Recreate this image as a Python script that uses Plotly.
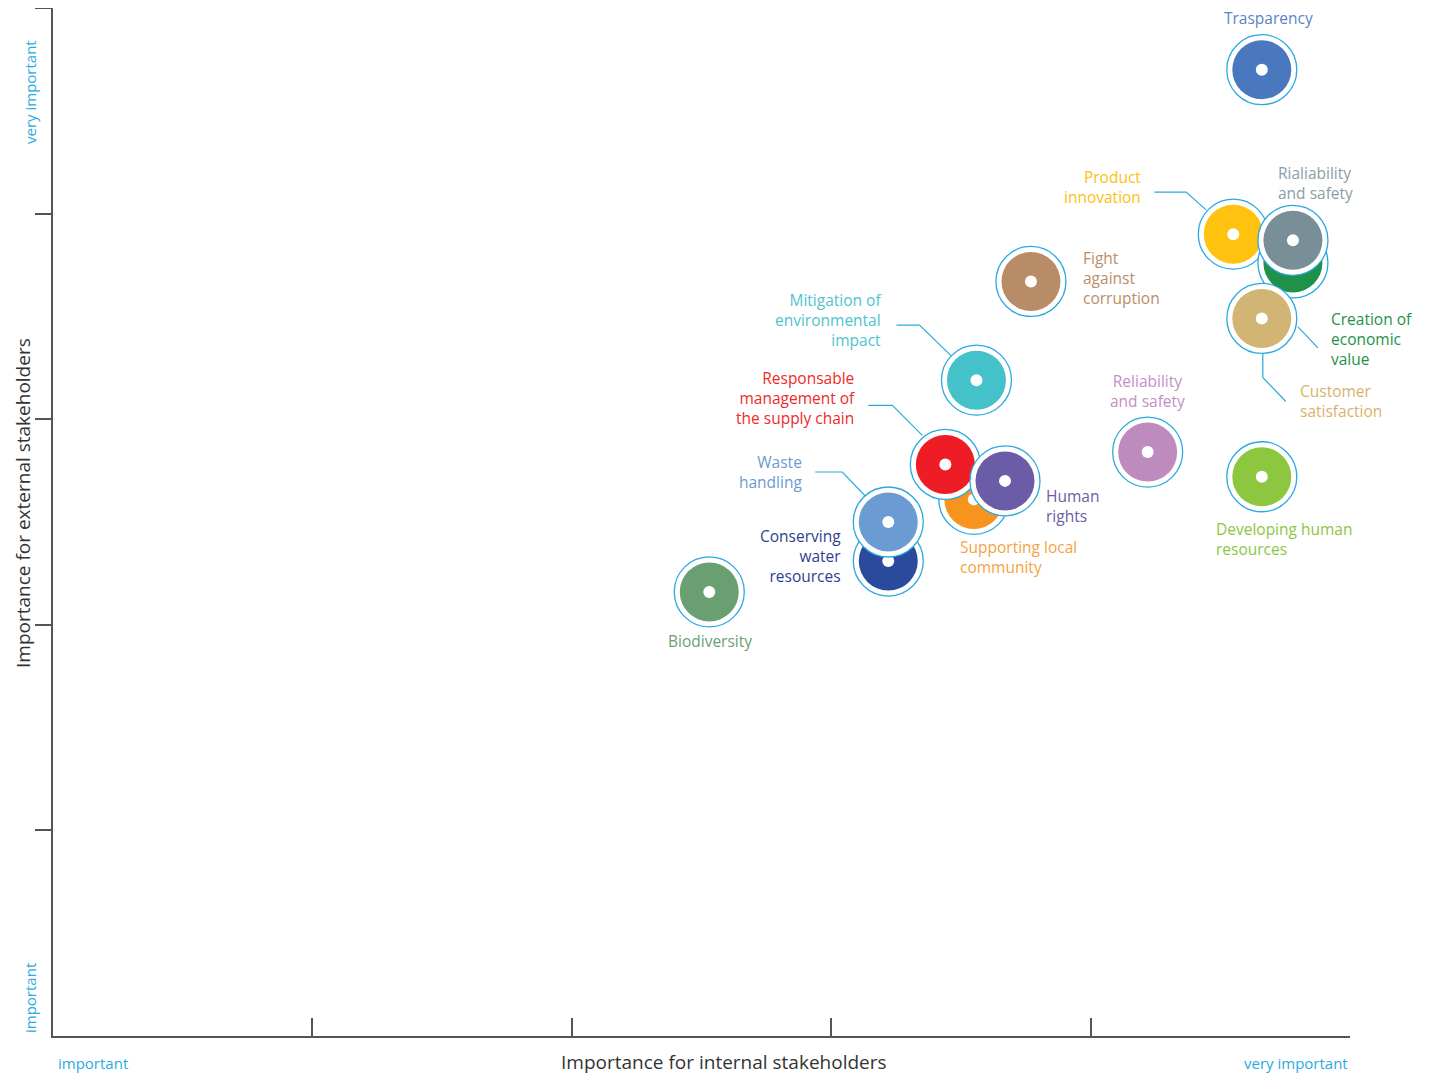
import plotly.graph_objects as go

RING = "#29A9E0"
AXIS = "#555555"
FONT = "Open Sans, sans-serif"

# ---- data ----
topics = [
    "Trasparency", "Product innovation", "Creation of economic value",
    "Rialiability and safety", "Customer satisfaction", "Fight against corruption",
    "Mitigation of environmental impact", "Supporting local community",
    "Responsable management of the supply chain", "Human rights",
    "Reliability and safety", "Developing human resources",
    "Conserving water resources", "Waste handling", "Biodiversity",
]
internal = [4.66, 4.55, 4.78, 4.78, 4.66, 3.77, 3.56, 3.55, 3.44, 3.67, 4.22, 4.66, 3.22, 3.22, 2.53]
external = [4.70, 3.90, 3.76, 3.87, 3.49, 3.67, 3.19, 2.61, 2.78, 2.70, 2.84, 2.72, 2.31, 2.50, 2.16]
labels = [
    "Trasparency", "Product<br>innovation", "Creation of<br>economic<br>value",
    "Rialiability<br>and safety", "Customer<br>satisfaction", "Fight<br>against<br>corruption",
    "Mitigation of<br>environmental<br>impact", "Supporting local<br>community",
    "Responsable<br>management of<br>the supply chain", "Human<br>rights",
    "Reliability<br>and safety", "Developing human<br>resources",
    "Conserving<br>water<br>resources", "Waste<br>handling", "Biodiversity",
]
fill_colors = ["#4A78BE", "#FEC20F", "#1F9148", "#788F98", "#D2B574", "#B78C67",
               "#45C1C9", "#F7941D", "#EE1C25", "#6A5CA6", "#BE8BBF", "#8DC63F",
               "#2A4B9B", "#6A9BD3", "#6A9F72"]
text_colors = ["#5B83C4", "#FDC010", "#1F9148", "#8B9DA5", "#D8B36A", "#B88E6A",
               "#4EC4CC", "#F7A23E", "#EE2A2A", "#6A5CA6", "#C190C5", "#8DC63F",
               "#2E3F8F", "#6A9BD3", "#6A9F72"]

# ---- label placement (pixel offsets from the bubble, y up) ----
label_pos = {
    "Trasparency": (7, 52, "center"),
    "Product innovation": (-90, 47, "right"),
    "Creation of economic value": (36, -76, "left"),
    "Rialiability and safety": (-17, 57, "left"),
    "Customer satisfaction": (36, -83, "left"),
    "Fight against corruption": (50, 3, "left"),
    "Mitigation of environmental impact": (-93, 60, "right"),
    "Supporting local community": (-16, -58, "left"),
    "Responsable management of the supply chain": (-88, 66, "right"),
    "Human rights": (39, -25, "left"),
    "Reliability and safety": (0, 61, "center"),
    "Developing human resources": (-48, -62, "left"),
    "Conserving water resources": (-45, 5, "right"),
    "Waste handling": (-84, 50, "right"),
    "Biodiversity": (1, -49, "center"),
}
leaders = {
    "Product innovation": [(-79, 42), (-47, 42), (-27, 24)],
    "Creation of economic value": [(5, -64), (25, -85)],
    "Customer satisfaction": [(1, -35), (1, -59), (24, -83)],
    "Mitigation of environmental impact": [(-80, 55), (-57, 55), (-25, 24)],
    "Responsable management of the supply chain": [(-77, 59), (-53, 59), (-23, 29)],
    "Waste handling": [(-73, 50), (-46, 50), (-23, 26)],
}

fig = go.Figure()

for name, x, y, c in zip(topics, internal, external, fill_colors):
    fig.add_scatter(x=[x], y=[y], mode="markers", hoverinfo="skip", showlegend=False,
                    marker=dict(size=70, color="white", line=dict(color=RING, width=1.3)))
    fig.add_scatter(x=[x], y=[y], mode="markers", name=name, showlegend=False,
                    marker=dict(size=59, color=c, line=dict(width=0)),
                    hovertemplate=f"{name}<extra></extra>")
    fig.add_scatter(x=[x], y=[y], mode="markers", hoverinfo="skip", showlegend=False,
                    marker=dict(size=12, color="white", line=dict(width=0)))

for name, x, y, lab, tc in zip(topics, internal, external, labels, text_colors):
    dx, dy, anchor = label_pos[name]
    fig.add_annotation(x=x, y=y, xref="x", yref="y", text=lab, showarrow=False,
                       xshift=dx, yshift=dy, xanchor=anchor, yanchor="middle", align=anchor,
                       font=dict(family=FONT, size=15.5, color=tc))
    if name in leaders:
        pts = leaders[name]
        path = "M " + " L ".join(f"{px},{py}" for px, py in pts)
        fig.add_shape(type="path", xsizemode="pixel", ysizemode="pixel",
                      xanchor=x, yanchor=y, xref="x", yref="y", path=path,
                      line=dict(color=RING, width=1.2))

# axis end labels
end_font = dict(family=FONT, size=15, color="#29ABE2")
fig.add_annotation(xref="paper", yref="paper", x=0, y=1, xshift=-23, yshift=-84,
                   xanchor="center", yanchor="middle",
                   text="very important", textangle=-90, showarrow=False, font=end_font)
fig.add_annotation(xref="paper", yref="paper", x=0, y=0, xshift=-23, yshift=38,
                   xanchor="center", yanchor="middle",
                   text="important", textangle=-90, showarrow=False, font=end_font)
fig.add_annotation(xref="paper", yref="paper", x=0, y=0, xshift=3, yshift=-27,
                   xanchor="left", yanchor="middle",
                   text="important", showarrow=False, font=end_font)
fig.add_annotation(xref="paper", yref="paper", x=1, y=0, yshift=-27,
                   xanchor="right", yanchor="middle",
                   text="very important", showarrow=False, font=end_font)

title_font = dict(family=FONT, size=19, color="#333333")
fig.add_annotation(xref="paper", yref="paper", x=0.517, y=0, yshift=-26,
                   xanchor="center", yanchor="middle",
                   text="Importance for internal stakeholders", showarrow=False, font=title_font)
fig.add_annotation(xref="paper", yref="paper", x=0, y=0.5185, xshift=-30,
                   xanchor="center", yanchor="middle", textangle=-90,
                   text="Importance for external stakeholders", showarrow=False, font=title_font)

# page body has an 8px margin, so the figure is trimmed by that amount
fig.update_layout(
    width=1427, height=1067,
    margin=dict(l=45, r=85, t=0, b=39),
    plot_bgcolor="white", paper_bgcolor="white",
    font=dict(family=FONT),
    hovermode="closest",
    xaxis=dict(range=[0, 5], tickvals=[0, 1, 2, 3, 4, 5], showticklabels=False,
               ticks="inside", ticklen=18, tickwidth=1.5, tickcolor=AXIS,
               showline=True, linecolor=AXIS, linewidth=1.5,
               showgrid=False, zeroline=False, fixedrange=True),
    yaxis=dict(range=[0, 5], tickvals=[1, 2, 3, 4, 5], showticklabels=False,
               ticks="outside", ticklen=16, tickwidth=1.5, tickcolor=AXIS,
               showline=True, linecolor=AXIS, linewidth=1.5,
               showgrid=False, zeroline=False, fixedrange=True),
)

fig.write_html("out.html")
